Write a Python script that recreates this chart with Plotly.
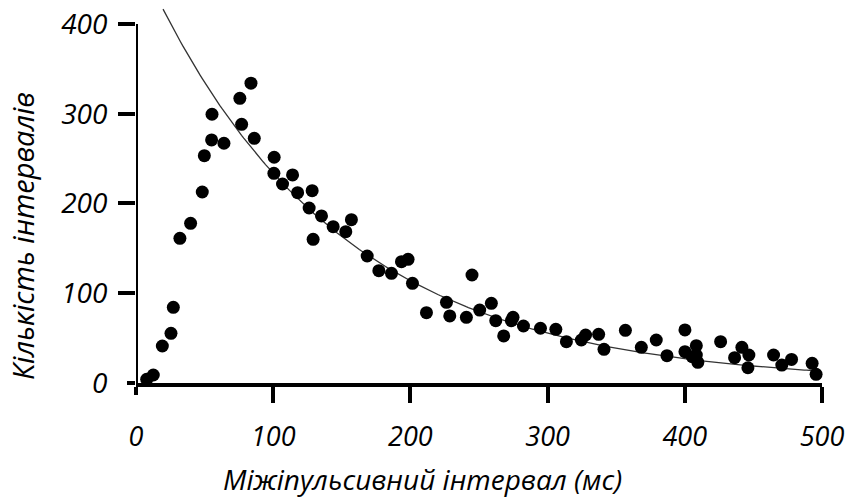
import numpy as np
import plotly.graph_objects as go

# Inter-pulse interval histogram (ms) and the number of intervals in each bin
interval_ms = [
    7.8, 12.6, 19.2, 25.5, 27.2, 32.0, 39.8, 48.3, 49.8, 55.1, 55.4, 64.1,
    75.7, 83.8, 77.0, 86.2, 100.7, 100.5, 106.8, 114.1, 117.8, 128.4, 126.2,
    135.2, 129.1, 143.7, 152.9, 157.0, 168.5, 177.0, 186.2, 193.5, 198.3,
    201.5, 211.7, 226.3, 228.7, 244.9, 240.8, 250.5, 259.0, 262.2, 268.0,
    274.8, 273.6, 282.4, 294.8, 306.0, 313.7, 324.6, 327.7, 337.2, 341.1,
    356.7, 368.3, 379.2, 387.0, 400.1, 400.1, 408.4, 408.4, 409.5, 405.4,
    426.1, 436.3, 441.6, 446.7, 446.0, 464.7, 470.7, 477.8, 492.8, 495.7,
]
interval_count = [
    4.1, 8.9, 41.2, 55.4, 84.3, 161.2, 177.9, 212.8, 253.3, 270.8, 299.4, 267.1,
    317.2, 334.0, 288.2, 272.6, 251.5, 233.6, 221.7, 231.8, 212.0, 214.3, 195.0,
    186.1, 160.1, 174.2, 168.6, 182.0, 141.5, 125.2, 122.2, 135.2, 137.8,
    111.0, 78.3, 89.9, 74.7, 120.3, 73.2, 81.3, 88.8, 69.4, 52.4,
    73.2, 69.4, 63.5, 61.0, 59.8, 46.0, 47.9, 53.5, 54.2, 37.5,
    58.7, 39.8, 47.9, 30.4, 59.1, 34.9, 41.6, 31.2, 23.0, 29.3,
    46.0, 28.2, 39.8, 31.2, 17.0, 31.2, 20.0, 26.3, 21.9, 9.7,
]

# Exponential fit to the decaying tail: N(t) = A * exp(-t / tau)
fit_amplitude = 480.0
fit_tau_ms = 139.0
fit_start_ms = 19.7
fit_end_ms = 495.0

x_ticks = [0, 100, 200, 300, 400, 500]
y_ticks = [0, 100, 200, 300, 400]
y_axis_top = 400
y_view_top = 417.8   # headroom above the axis so the fit curve can rise past 400

x_title = "Міжіпульсивний інтервал (мс)"
y_title = "Кількість інтервалів"

fit_t = np.linspace(fit_start_ms, fit_end_ms, 300)
fit_n = fit_amplitude * np.exp(-fit_t / fit_tau_ms)

font_family = "Open Sans"
axis_color = "#000000"

fig = go.Figure()
fig.add_trace(go.Scatter(
    x=fit_t, y=fit_n, mode="lines",
    line=dict(color="#333333", width=1.3),
    cliponaxis=False, hoverinfo="skip", showlegend=False,
))
fig.add_trace(go.Scatter(
    x=interval_ms, y=interval_count, mode="markers",
    marker=dict(color="#000000", size=13, line=dict(width=0)),
    cliponaxis=False, showlegend=False,
))

# Vertical axis line drawn only from 0 up to 400, with a short stub below 0
fig.add_shape(type="line", xref="x", yref="y",
              x0=0, x1=0, y0=0, y1=y_axis_top,
              line=dict(color=axis_color, width=4), layer="above")
fig.add_shape(type="line", xref="x", yref="paper",
              x0=0, x1=0, y0=0, y1=-0.012,
              line=dict(color=axis_color, width=4), layer="above")

fig.update_layout(
    width=847, height=499,
    margin=dict(l=136, r=25, t=8, b=116),
    paper_bgcolor="white", plot_bgcolor="white",
    font=dict(family=font_family, color="#000000"),
    xaxis=dict(
        range=[0, 500], tickvals=x_ticks, ticktext=[str(v) for v in x_ticks],
        showgrid=False, zeroline=False, automargin=False,
        showline=True, linecolor=axis_color, linewidth=4,
        ticks="outside", ticklen=8, tickwidth=4, tickcolor=axis_color,
        minor=dict(tickvals=x_ticks[1:], ticks="outside", ticklen=16,
                   tickwidth=4, tickcolor=axis_color, showgrid=False),
        ticklabelstandoff=19,
        tickfont=dict(family=font_family, size=27, style="italic"),
    ),
    yaxis=dict(
        range=[0, y_view_top], tickvals=y_ticks, ticktext=[str(v) for v in y_ticks],
        showgrid=False, zeroline=False, automargin=False,
        showline=False,
        ticks="outside", ticklen=8, tickwidth=4, tickcolor=axis_color,
        minor=dict(tickvals=y_ticks[1:], ticks="outside", ticklen=17,
                   tickwidth=4, tickcolor=axis_color, showgrid=False),
        ticklabelstandoff=14,
        tickfont=dict(family=font_family, size=28, style="italic"),
    ),
    annotations=[
        dict(text=x_title, xref="paper", yref="paper", x=0.418, y=-0.256,
             xanchor="center", yanchor="middle", showarrow=False,
             font=dict(family=font_family, size=28, style="italic")),
        dict(text=y_title, xref="paper", yref="paper", x=-0.166, y=0.392,
             xanchor="center", yanchor="middle", showarrow=False, textangle=-90,
             font=dict(family=font_family, size=29, style="italic")),
    ],
)

fig.write_html("out.html")
